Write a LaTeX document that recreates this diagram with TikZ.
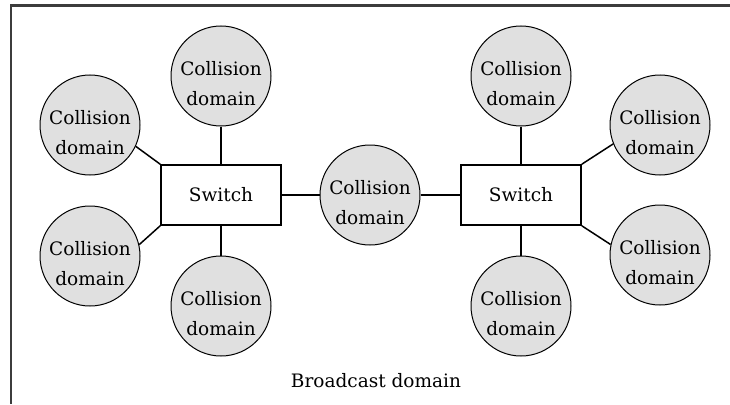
\documentclass[tikz,border=0pt]{standalone}
\usepackage{fontspec}
\setmainfont{DejaVu Serif}
\definecolor{domfill}{RGB}{224,224,224}
\definecolor{frame}{RGB}{60,60,60}
\begin{document}
\begin{tikzpicture}[x=1pt,y=-1pt,
  dom/.style={circle,draw=black,line width=1pt,fill=domfill,minimum size=100pt,inner sep=0pt,
    align=center,font=\fontsize{18.5}{30}\selectfont,text height=58pt,text depth=0pt},
  swbox/.style={rectangle,draw=black,line width=1.6pt,fill=white,minimum width=120pt,minimum height=60pt,
    inner sep=0pt,font=\fontsize{18.5}{22}\selectfont},
  link/.style={draw=black,line width=1.5pt},
  lbl/.style={font=\fontsize{18.5}{22}\selectfont,inner sep=0pt}]
\useasboundingbox (0,0) rectangle (730,404);
\coordinate (ftop) at (730,5.5);
\coordinate (fcorner) at (11,5.5);
\coordinate (fbot) at (11,404);
\draw[frame,line width=2.5pt] (ftop) -- (fcorner) -- (fbot);

\node[swbox] (sw1) at (221,195) {Switch};
\node[swbox] (sw2) at (521,195) {Switch};

\node[dom] (ctl) at (221,76) {Collision\\domain};
\node[dom] (clu) at (90,125) {Collision\\domain};
\node[dom] (cll) at (90,256) {Collision\\domain};
\node[dom] (cbl) at (221,306) {Collision\\domain};
\node[dom] (cmid) at (370,195) {Collision\\domain};
\node[dom] (ctr) at (521,76) {Collision\\domain};
\node[dom] (cru) at (660,125) {Collision\\domain};
\node[dom] (crl) at (660,255) {Collision\\domain};
\node[dom] (cbr) at (521,306) {Collision\\domain};

\draw[link] (ctl) -- (sw1);
\draw[link] (clu.-25) -- (sw1.north west);
\draw[link] (cll.13) -- (sw1.south west);
\draw[link] (sw1) -- (cbl);
\draw[link] (sw1) -- (cmid);
\draw[link] (cmid) -- (sw2);
\draw[link] (ctr) -- (sw2);
\draw[link] (sw2) -- (cbr);
\draw[link] (sw2.north east) -- (cru.-158);
\draw[link] (sw2.south east) -- (crl.168);

\node[lbl] (bd) at (376,381) {Broadcast domain};
\end{tikzpicture}
\end{document}
